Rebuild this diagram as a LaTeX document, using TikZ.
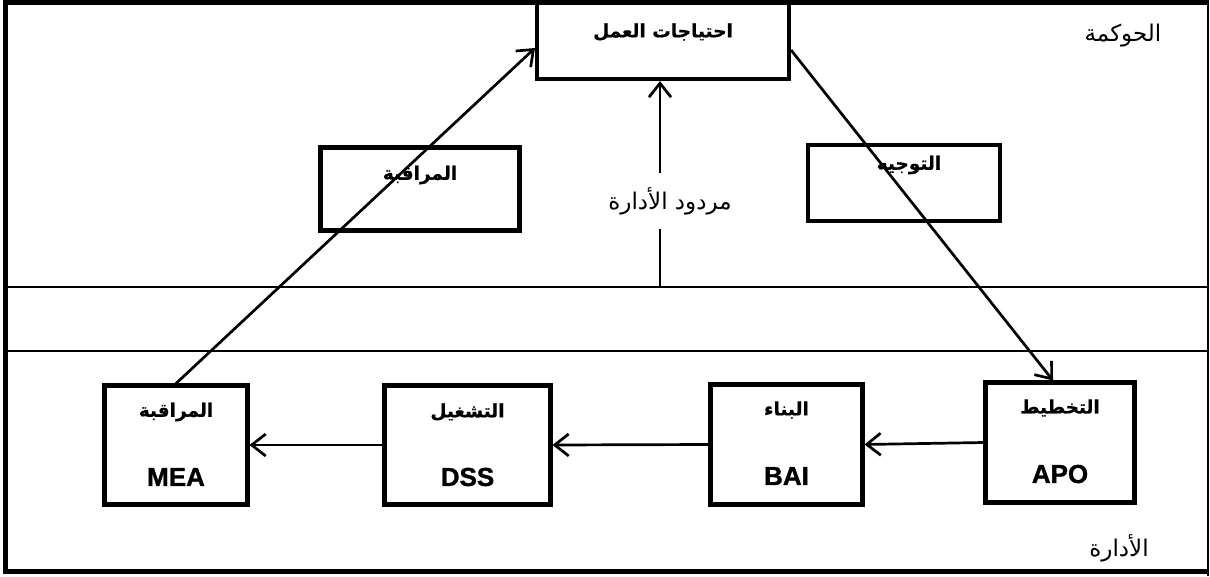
\documentclass[tikz,border=0pt]{standalone}
\usepackage{fontspec}
\setmainfont{Liberation Sans}
\newfontfamily\arabicfont[Script=Arabic, BoldFeatures={FakeBold=0.6}]{DejaVu Sans}
\newfontfamily\codefont[FakeBold=1.2]{Liberation Sans Bold}
\TeXXeTstate=1
\usetikzlibrary{arrows.meta}
% right-to-left Arabic run
\newcommand{\artxt}[1]{{\arabicfont\beginR #1\endR}}

\begin{document}
\begin{tikzpicture}[x=1pt,y=-1pt,
  box/.style={draw, line width=4.5pt, inner sep=0pt, outer sep=2pt},
  rule/.style={line width=2.5pt},
  link/.style={line width=2.7pt, -{Straight Barb[length=14pt,width=22pt]}},
  boxtitle/.style={font=\fontsize{18.5}{22}\selectfont\bfseries, inner sep=0pt},
  code/.style={font=\fontsize{26}{30}\selectfont\codefont, inner sep=0pt},
  plain/.style={font=\fontsize{23}{26}\selectfont, inner sep=0pt}]
\useasboundingbox (0,0) rectangle (1210,576);

% outer frame and the band between governance and management
\draw[line width=5pt] (1208,2) -- (5.5,2) -- (5.5,571.5) -- (1208,571.5);
\draw[rule] (1208,0) -- (1208,576);
\draw[rule] (8,287) -- (1208,287);
\draw[rule] (8,351) -- (1208,351);

% governance level
\node[box, minimum width=252pt, minimum height=76pt] (top) at (663,41) {};
\node[boxtitle] at (663,32) {\artxt{احتياجات العمل}};
\node[box, minimum width=199pt, minimum height=83pt] (mon) at (420,189) {};
\node[boxtitle] at (420,175) {\artxt{المراقبة}};
\node[box, minimum width=192pt, minimum height=76pt] (dir) at (904,183) {};
\node[boxtitle] at (909,165) {\artxt{التوجيه}};

% management level
\node[box, minimum width=143pt, minimum height=119pt] (mea) at (176,445) {};
\node[boxtitle] at (176,412) {\artxt{المراقبة}};
\node[code] at (176,477) {MEA};
\node[box, minimum width=166pt, minimum height=119pt] (dss) at (467.5,445) {};
\node[boxtitle] at (467.5,412) {\artxt{التشغيل}};
\node[code] at (467.5,477) {DSS};
\node[box, minimum width=152pt, minimum height=120pt] (bai) at (786.5,444.5) {};
\node[boxtitle] at (786.5,410) {\artxt{البناء}};
\node[code] at (786.5,476) {BAI};
\node[box, minimum width=149pt, minimum height=120pt] (apo) at (1060,442.5) {};
\node[boxtitle] at (1060,408) {\artxt{التخطيط}};
\node[code] at (1060,474) {APO};

% level captions
\node[plain] (gov) at (1123,36) {\artxt{الحوكمة}};
\node[plain] (mgmt) at (1119,548) {\artxt{الأدارة}};

% flows
\draw[link] (apo.west) -- (bai.east);
\draw[link] (bai.west) -- (dss.east);
\draw[link] (dss.west) -- (mea.east);
\draw[link] (mea.north) -- ([yshift=-7pt]top.west);
\draw[link] ([yshift=-9pt]top.east) -- ([xshift=-7pt]apo.north);

% management feedback
\coordinate (fb) at (660,287);
\draw[link] (fb) -- (top.south -| fb);
\node[plain, fill=white, inner ysep=14pt, inner xsep=4pt] (fbl) at (670,201) {\artxt{مردود الأدارة}};
\end{tikzpicture}
\end{document}
